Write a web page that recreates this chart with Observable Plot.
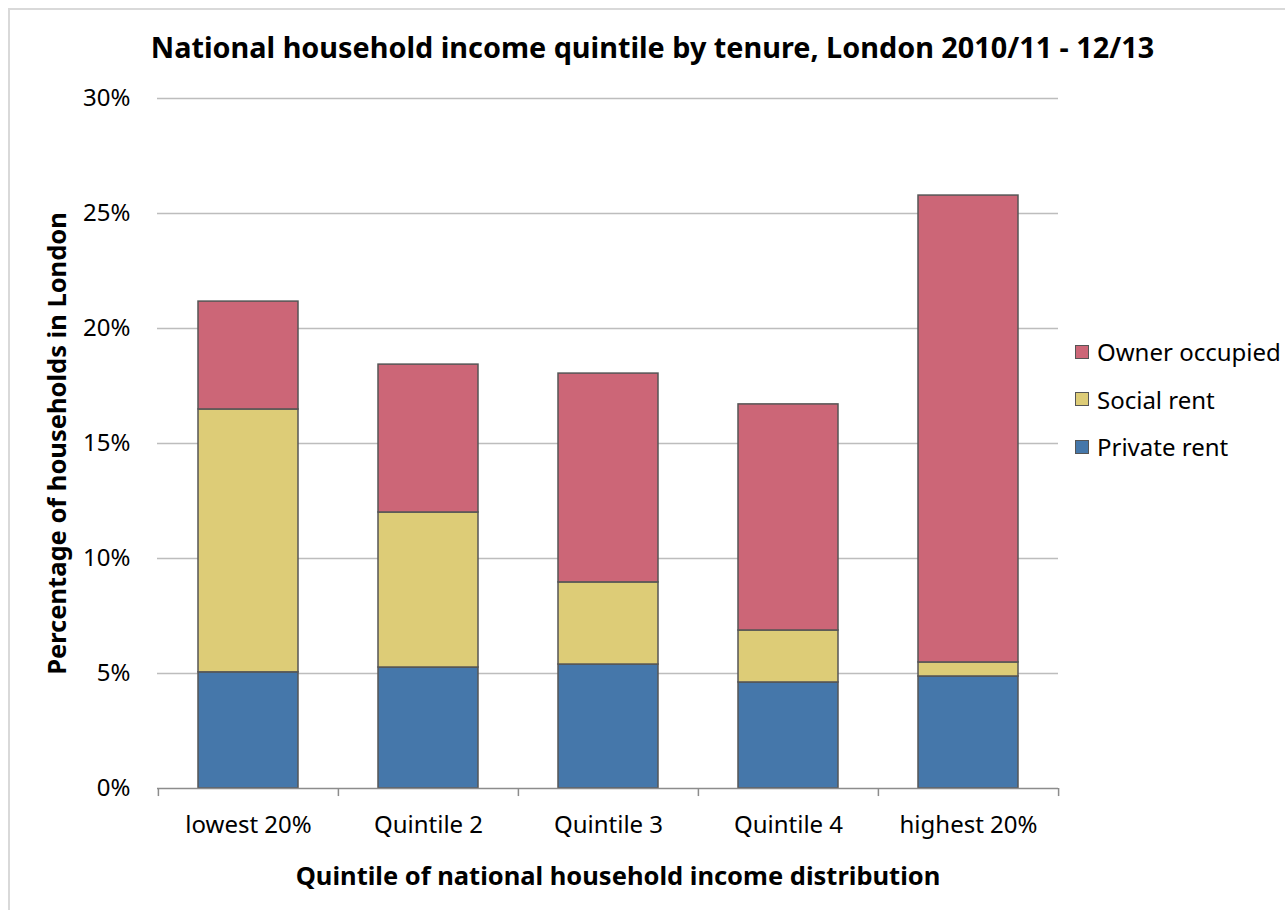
<!DOCTYPE html>
<html>
<head>
<meta charset="utf-8">
<script src="https://cdn.jsdelivr.net/npm/d3@7"></script>
<script src="https://cdn.jsdelivr.net/npm/@observablehq/plot@0.6"></script>
<style>
  html, body { margin: 0; padding: 0; background: #fff; overflow: hidden; }
  #wrap { position: relative; width: 1285px; height: 910px; font-family: "Noto Sans", sans-serif; color: #000; }
  #frame { position: absolute; left: 8px; top: 8px; width: 1400px; height: 1000px; border-left: 2px solid #d9d9d9; border-top: 2px solid #d9d9d9; }
  #title { position: absolute; top: 29px; left: 0; width: 1305px; text-align: center; font-weight: bold; font-size: 28.8px; line-height: 36px; }
  #chart { position: absolute; top: 80px; left: 0; }
  #legend { position: absolute; left: 1075px; top: 328px; font-size: 24px; }
  .item { display: flex; align-items: center; height: 47.5px; }
  .sw { width: 12px; height: 12px; border: 1.5px solid #555; margin-right: 8px; }
</style>
</head>
<body>
<div id="wrap">
  <div id="frame"></div>
  <div id="title"></div>
  <div id="chart"></div>
  <div id="legend"></div>
</div>
<script>
const titleText = "National household income quintile by tenure, London 2010/11 - 12/13";
const xLabel = "Quintile of national household income distribution";
const yLabel = "Percentage of households in London";
const categories = ["lowest 20%", "Quintile 2", "Quintile 3", "Quintile 4", "highest 20%"];
const tenures = ["Private rent", "Social rent", "Owner occupied"];
const colors = ["#4577AA", "#DDCC77", "#CC6677"];
const privateRent = [5.05, 5.26, 5.39, 4.61, 4.87];
const socialRent = [11.43, 6.74, 3.57, 2.26, 0.61];
const ownerOccupied = [4.69, 6.43, 9.08, 9.83, 20.30];
const yTicks = [0, 5, 10, 15, 20, 25, 30];

document.getElementById("title").textContent = titleText;

const series = [privateRent, socialRent, ownerOccupied];
const rows = [];
categories.forEach((c, i) => {
  tenures.forEach((t, j) => rows.push({quintile: c, tenure: t, value: series[j][i]}));
});

const W = 1285, H = 830;
const mL = 157, mR = 227, mT = 18, mB = 122;
const step = (W - mL - mR) / categories.length;

const chart = Plot.plot({
  width: W, height: H,
  marginLeft: mL, marginRight: mR, marginTop: mT, marginBottom: mB,
  style: {fontFamily: "Noto Sans, sans-serif", background: "transparent", color: "#000", overflow: "visible"},
  x: {domain: categories, paddingInner: 0.445, paddingOuter: 0.2225, label: null},
  y: {domain: [0, 30], label: null},
  color: {domain: tenures, range: colors},
  marks: [
    Plot.gridY(yTicks.slice(1), {stroke: "#bdbdbd", strokeOpacity: 1, strokeWidth: 1.5}),
    Plot.barY(rows, {x: "quintile", y: "value", fill: "tenure", order: tenures, stroke: "#555", strokeWidth: 1.5}),
    Plot.ruleY([0], {stroke: "#8c8c8c", strokeWidth: 1.5}),
    Plot.ruleX(categories, {x: d => d, dx: -step / 2, y1: 0, y2: -0.35, stroke: "#8c8c8c", strokeWidth: 1.5}),
    Plot.ruleX(categories.slice(-1), {x: d => d, dx: step / 2, y1: 0, y2: -0.35, stroke: "#8c8c8c", strokeWidth: 1.5}),
    Plot.axisY(yTicks, {tickSize: 0, tickPadding: 27, fontSize: 24, tickFormat: d => d + "%", label: null}),
    Plot.axisX({tickSize: 0, tickPadding: 27, fontSize: 24, label: null}),
    Plot.text([yLabel], {frameAnchor: "left", textAnchor: "middle", rotate: -90, dx: -100, fontWeight: "bold", fontSize: 25.5}),
    Plot.text([xLabel], {frameAnchor: "bottom", dy: 96, dx: 10, fontWeight: "bold", fontSize: 25.5})
  ]
});
document.getElementById("chart").appendChild(chart);

const legend = document.getElementById("legend");
tenures.slice().reverse().forEach((t) => {
  const it = document.createElement("div");
  it.className = "item";
  const sw = document.createElement("div");
  sw.className = "sw";
  sw.style.background = colors[tenures.indexOf(t)];
  const lb = document.createElement("span");
  lb.textContent = t;
  it.appendChild(sw); it.appendChild(lb);
  legend.appendChild(it);
});
</script>
</body>
</html>
